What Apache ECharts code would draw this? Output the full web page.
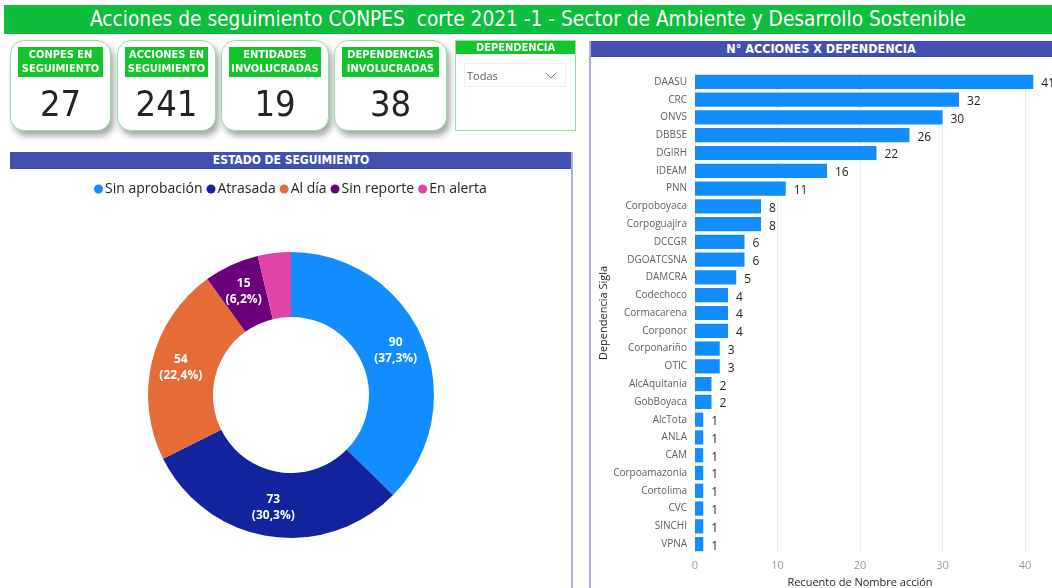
<!DOCTYPE html>
<html><head><meta charset="utf-8">
<script src="https://cdn.jsdelivr.net/npm/echarts@6/dist/echarts.min.js"></script>
<style>
html,body{margin:0;padding:0;background:#fff;width:1052px;height:588px;overflow:hidden;font-family:"DejaVu Sans Condensed","Roboto",sans-serif}
#chart{position:absolute;left:0;top:0;width:1052px;height:588px}
.abs{position:absolute}
#titlebar{left:4px;top:5px;width:1048px;height:29px;background:#0DBE3C;color:#fff;font-size:20.7px;line-height:29px;text-align:center}
.card{position:absolute;top:40px;height:89px;background:#fff;border:1px solid #8FE3A2;border-radius:14px;box-shadow:3px 5px 6px rgba(0,0,0,0.35)}
.card .lab{position:absolute;left:7px;right:7px;top:6px;height:29px;background:#13C42B;color:#fff;font-weight:bold;font-size:11px;line-height:13.5px;text-align:center;padding-top:1px}
.card .num{position:absolute;left:0;right:0;top:42px;text-align:center;font-size:36px;color:#252423;font-family:"DejaVu Sans Condensed",sans-serif}
#slicer{left:455px;top:40px;width:119px;height:89px;border:1px solid #8FE3A2;background:#fff}
#slicer .hd{position:absolute;left:0;right:0;top:0;height:13px;background:#13C42B;color:#fff;font-weight:bold;font-size:11px;line-height:13px;text-align:center}
#slicer .dd{position:absolute;left:8px;top:22px;width:102px;height:24px;border:1px solid #eee;font-family:"Open Sans",sans-serif;font-size:11px;color:#605E5C;line-height:24px;padding-left:2px;box-sizing:border-box}
.hdr{background:#4250B1;color:#fff;font-weight:bold;font-size:12px;text-align:center}
</style></head>
<body>
<div id="chart"></div>
<div id="titlebar" class="abs">Acciones de seguimiento CONPES&nbsp; corte 2021 -1 - Sector de Ambiente y Desarrollo Sostenible</div>
<div class="card" style="left:10px;width:99px"><div class="lab">CONPES EN<br>SEGUIMIENTO</div><div class="num" id="k0"></div></div>
<div class="card" style="left:117px;width:97px"><div class="lab">ACCIONES EN<br>SEGUIMIENTO</div><div class="num" id="k1"></div></div>
<div class="card" style="left:221px;width:106px"><div class="lab">ENTIDADES<br>INVOLUCRADAS</div><div class="num" id="k2"></div></div>
<div class="card" style="left:334px;width:111px"><div class="lab">DEPENDENCIAS<br>INVOLUCRADAS</div><div class="num" id="k3"></div></div>
<div id="slicer" class="abs"><div class="hd">DEPENDENCIA</div><div class="dd">Todas<svg style="position:absolute;right:8px;top:8px" width="12" height="7"><polyline points="0.5,0.5 6,6 11.5,0.5" fill="none" stroke="#888" stroke-width="1"/></svg></div></div>
<div class="abs hdr" style="left:10px;top:152px;width:562px;height:17px;line-height:17px">ESTADO DE SEGUIMIENTO</div>
<div class="abs" style="left:571px;top:152px;width:2px;height:436px;background:#A9B0E0"></div>
<div class="abs hdr" style="left:590px;top:41px;width:462px;height:16px;line-height:16px;font-size:12.5px">N° ACCIONES X DEPENDENCIA</div>
<div class="abs" style="left:589px;top:41px;width:2px;height:547px;background:#A9B0E0"></div>
<script>
var kpiValues = [27, 241, 19, 38];
var estados = ['Sin aprobación', 'Atrasada', 'Al día', 'Sin reporte', 'En alerta'];
var estadoValues = [90, 73, 54, 15, 9];
var estadoColors = ['#118DFF', '#12239E', '#E66C37', '#6B007B', '#E044A7'];
var dependencias = ['DAASU','CRC','ONVS','DBBSE','DGIRH','IDEAM','PNN','Corpoboyaca','Corpoguajira','DCCGR','DGOATCSNA','DAMCRA','Codechoco','Cormacarena','Corponor','Corponariño','OTIC','AlcAquitania','GobBoyaca','AlcTota','ANLA','CAM','Corpoamazonia','Cortolima','CVC','SINCHI','VPNA'];
var accionesValues = [41,32,30,26,22,16,11,8,8,6,6,5,4,4,4,3,3,2,2,1,1,1,1,1,1,1,1];
var xTicks = [0, 10, 20, 30, 40];

kpiValues.forEach(function(v,i){document.getElementById('k'+i).textContent=v;});
var total = estadoValues.reduce(function(a,b){return a+b;},0);
var chart = echarts.init(document.getElementById('chart'));
var uiFont = '"Open Sans","Noto Sans",sans-serif';
chart.setOption({
  animation:false,
  legend:{left:89,top:177,icon:'circle',itemWidth:9,itemHeight:9,itemGap:4,
    textStyle:{fontSize:14,color:'#252423',fontFamily:uiFont,padding:[0,0,0,-3]},
    data:estados},
  grid:{left:695,right:27,top:73,bottom:35,outerBoundsMode:'none',containLabel:false},
  xAxis:{type:'value',min:0,max:40,interval:10,
    axisLine:{show:false},axisTick:{show:false},
    axisLabel:{color:'#999',fontSize:11,margin:7,fontFamily:uiFont,formatter:function(v){return xTicks.indexOf(v)>=0?String(v):'';}},
    splitLine:{lineStyle:{type:'dotted',color:'#D8D8D8'}},
    name:'Recuento de Nombre acción',nameLocation:'middle',nameGap:24,
    nameTextStyle:{color:'#252423',fontSize:11,fontFamily:uiFont}},
  yAxis:{type:'category',data:dependencias,inverse:true,
    axisLine:{show:false},axisTick:{show:false},
    axisLabel:{color:'#605E5C',fontSize:10,margin:8,fontFamily:uiFont},
    name:'Dependencia Sigla',nameLocation:'middle',nameGap:82,nameRotate:90,
    nameTextStyle:{color:'#252423',fontSize:11,fontFamily:uiFont}},
  series:[
    {type:'pie',name:'Estado',radius:[78,143],center:[291,395],startAngle:90,clockwise:true,
     data:estados.map(function(n,i){return {name:n,value:estadoValues[i],itemStyle:{color:estadoColors[i]}};}),
     label:{position:'inside',color:'#fff',fontWeight:'bold',fontSize:12,lineHeight:16,fontFamily:uiFont,
       formatter:function(p){return p.value+'\n('+(p.value/total*100).toFixed(1).replace('.',',')+'%)';}},
     labelLine:{show:false},emphasis:{disabled:true}},
    {type:'bar',data:accionesValues,barCategoryGap:'20%',clip:false,
     itemStyle:{color:'#118DFF'},
     label:{show:true,position:'right',distance:8,color:'#252423',fontSize:12,fontFamily:uiFont,offset:[0,2]}}
  ]
});
</script>
</body></html>
